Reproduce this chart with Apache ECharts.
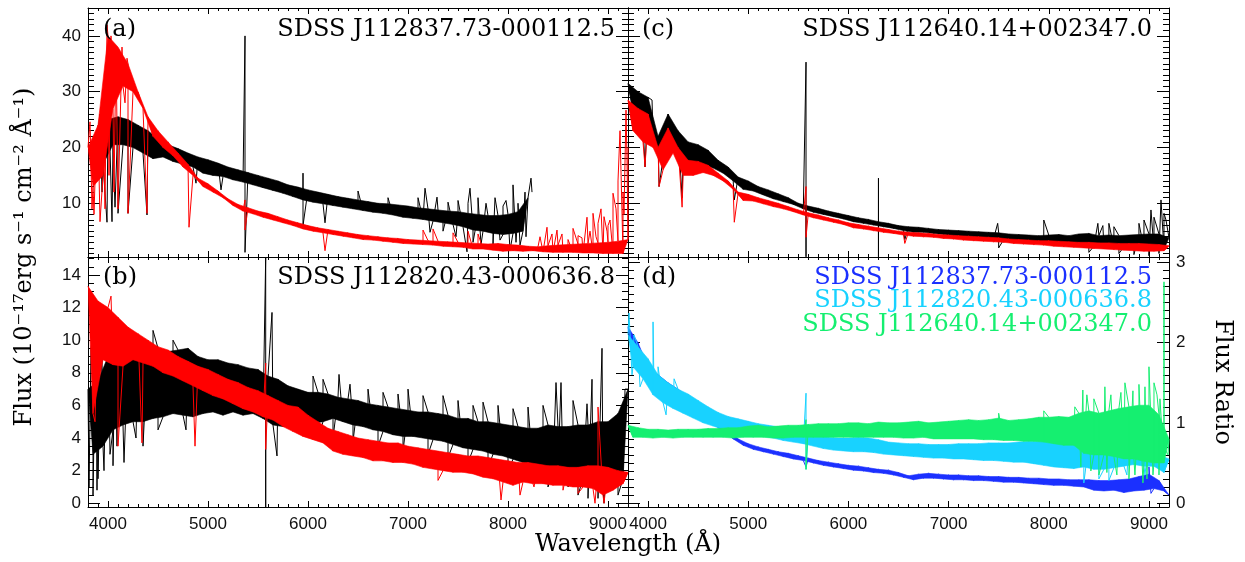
<!DOCTYPE html>
<html><head><meta charset="utf-8">
<script src="https://cdn.jsdelivr.net/npm/echarts@6/dist/echarts.min.js"></script>
<style>html,body{margin:0;padding:0;background:#fff}#c{width:1245px;height:562px}</style>
</head><body><div id="c"></div>
<script>
// ---------- tick labels ----------
const xTickLabels = [4000, 5000, 6000, 7000, 8000, 9000];
const yTickLabelsTop = [10, 20, 30, 40];
const yTickLabelsB = [0, 2, 4, 6, 8, 10, 12, 14];
const yTickLabelsRatio = [0, 1, 2, 3];

const titles = ['SDSS J112837.73-000112.5', 'SDSS J112820.43-000636.8', 'SDSS J112640.14+002347.0'];
const panelTags = ['(a)', '(b)', '(c)', '(d)'];

// ---------- spectra: upper / lower noise envelope every 100 A from start, plus narrow features ----------
// panel (a)
const aBlackStart = 3900, aBlackEnd = 8240;
const aBlackHi = [23,25,25.5,25,24,23,21.5,20.5,19.8,19,18.3,17.8,17.2,16.5,16,15.5,15,14.5,14,13.3,12.9,12.4,12,11.6,11.2,10.9,10.6,10.3,10,9.9,9.7,9.5,9.2,9,8.8,8.6,8.5,8.2,8,7.8,7.8,8,8.5,11];
const aBlackLo = [17,20.5,20.5,20,19,18,18.3,17.5,17,16.5,15.4,15,14.8,14.2,13.8,13.3,12.8,12.3,11.8,11.2,10.6,10.2,9.9,9.6,9.3,9,8.7,8.4,8.2,7.9,7.5,7.3,7.1,6.8,6.5,6.2,5.8,5.2,5,4.6,4.4,4.6,5,7];
const aBlackLines = [[3920,26],[3940,12],[3990,6.6],[4010,26.5],[4040,6.7],[4070,9.3],[4100,8.2],[4200,8.2],[4390,7.9],[4880,13.6],[5130,12.4],[5370,40],[5370,1.2],[5950,15.4],[5950,6],[6170,6.5],[6500,12.2],[6800,11],[7100,11],[7170,12.7],[7220,4.8],[7290,11.1],[7350,5],[7400,10.2],[7480,4],[7500,10.5],[7590,1.3],[7600,10],[7620,12.7],[7650,3],[7700,11],[7730,2.6],[7780,10],[7850,2.5],[7870,11],[7920,3.4],[7950,9.5],[7980,10.5],[8020,1.6],[8050,13.3],[8080,3],[8100,10],[8120,2.5],[8170,12],[8180,4],[8230,14.5],[8240,12]];

const aRedStart = 3800, aRedEnd = 9200;
const aRedHi = [20,24,40,38,35,30,25.5,23,21,19,17,14.5,13.5,12.2,10.8,9.8,9.2,8.6,8.2,7.6,7,6.5,6,5.6,5.3,5,4.7,4.4,4.2,4,3.8,3.7,3.5,3.4,3.3,3.2,3.1,3,2.9,2.8,2.7,2.8,2.6,2.5,2.3,2.2,2.4,2.5,2.6,2.7,2.8,2.9,3,3.2,3.5];
const aRedLo = [13,15,27,31,30,27,22,20,18.5,16.5,15,13,12,11,9.6,8.6,8.1,7.5,7,6.5,6,5.4,5,4.7,4.4,4.1,3.8,3.5,3.4,3.2,3,2.8,2.7,2.6,2.5,2.3,2.2,2.1,1.8,1.8,1.6,1.4,1.5,1.4,1.5,1.3,1.2,1.2,1.2,1.1,1.1,1,1,1,1];
const aRedLines = [[3820,24.6],[3840,9],[3860,8],[3880,20],[3920,6.7],[3950,30],[3970,9],[3990,42],[4010,15],[4030,40],[4060,12],[4080,38],[4100,9],[4140,38],[4170,28],[4190,36],[4200,8.2],[4390,8.2],[4810,5.7],[5370,10.6],[5370,5.2],[6170,1.5],[7150,5.2],[7250,5.4],[7450,4.7],[7600,5],[7700,4.5],[8320,4],[8390,5.7],[8440,4.5],[8490,5.2],[8540,4.5],[8600,3.5],[8650,5.5],[8700,4.2],[8740,3.8],[8790,7.5],[8820,5],[8850,8.2],[8880,4],[8900,6.4],[8930,9],[8960,7.6],[8990,5],[9000,6],[9020,7],[9050,11.8],[9080,9],[9100,14],[9120,23],[9150,12],[9160,8],[9180,26.7],[9190,18],[9200,20]];

// panel (c)
const cStart = 3800, cEnd = 9200;
const cBlackHi = [31.5,30,29,22,26,23,21,20.5,19.5,17.7,16.5,14.7,14,13,12.4,11.7,11,10,9.5,9.1,8.6,8.2,7.8,7.4,7.1,6.7,6.4,6.0,5.8,5.7,5.5,5.3,5.2,5.1,5.0,4.9,4.8,4.7,4.5,4.4,4.3,4.2,4.3,4.4,4.2,4.5,4.6,4.2,4.3,4.2,4.3,4.4,4.5,4.5,3.8];
const cBlackLo = [26.5,24,22,18,21,18,17,17,16.3,15.4,14,12.5,12.2,11.5,10.8,10.3,9.8,9,8.4,8,7.6,7.2,6.7,6.4,6.1,5.8,5.5,5.1,4.8,4.8,4.6,4.4,4.2,4.1,4,3.8,3.7,3.5,3.3,3.2,3,2.9,2.7,2.6,2.5,2.4,2.3,2.2,2.1,2.2,2,1.9,1.8,1.7,1.8];
const cBlackLines = [[3970,16.5],[4040,28.5],[4110,13],[4340,11],[4861,10.6],[5577,35.3],[5577,0.4],[5577,9],[6300,14.5],[6300,0.4],[6300,6.5],[6563,3.5],[7490,6.4],[7500,2],[7950,7],[8400,1.2],[8490,6.4],[8540,6],[8600,6.4],[8650,5.8],[8700,1],[8850,0.8],[8900,6.4],[8950,7],[9000,0.6],[9020,8.8],[9050,7.5],[9100,1],[9120,10.6],[9150,8.2],[9170,7]];
const cRedHi = [28.5,27,26,20,23.5,20,17.7,17.5,16.8,15.4,14,12,11.6,11,10.5,10,9.4,8.8,8.3,7.9,7.4,7.0,6.5,6.2,5.9,5.6,5.3,5.0,4.8,4.7,4.6,4.4,4.3,4.2,4.1,4.0,3.9,3.8,3.6,3.5,3.4,3.3,3.3,3.2,3.1,3.0,3.0,2.9,2.9,2.8,2.8,2.8,2.7,2.6,2.4];
const cRedLo = [23,21,20,16,19,15,15,15.5,15,14,12.5,10.5,10.4,9.9,9.4,9,8.5,7.9,7.4,7.0,6.6,6.2,5.6,5.4,5.1,4.8,4.6,4.3,4.1,4.0,3.9,3.7,3.6,3.4,3.3,3.2,3.1,3.0,2.8,2.7,2.6,2.5,2.3,2.2,2.1,2.0,1.9,1.8,1.7,1.6,1.5,1.4,1.4,1.5,1.6];
const cRedLines = [[3970,16.5],[4110,13],[4340,9.3],[4861,6.6],[5577,13],[5577,3.9],[6563,2.8]];

// panel (b)
const bStart = 3800, bEnd = 9200;
const bBlackHi = [7,7.5,9,9,9.4,9.6,9.8,9.5,9.3,9.4,9.5,9,8.8,8.8,8.6,8.5,8.3,8.2,7.8,7.6,7.2,7,6.8,6.8,6.7,6.5,6.4,6.3,6.1,6,5.9,5.8,5.7,5.6,5.6,5.5,5.4,5.2,5.2,5,5,4.9,4.8,4.7,4.6,4.6,4.8,4.7,4.7,4.8,4.8,5,5,5.5,7];
const bBlackLo = [3,3.5,4.5,4.8,5,5,5.2,5.3,5.5,5.4,5.3,5.5,5.6,5.4,5.6,5.4,5.5,5.2,4.8,4.7,4.8,4.8,4.9,5,5.2,5,4.8,4.7,4.5,4.4,4.2,4.1,4.1,4,3.9,3.8,3.6,3.4,3.3,3.2,3,2.9,2.7,2.5,2.3,2.2,2,1.8,1.5,1.5,1.3,1,1,1.5,2];
const bBlackLines = [[3810,1],[3830,9.5],[3840,10],[3850,0.5],[3870,8],[3880,9],[3890,0.8],[3900,1.5],[3920,7],[3940,9],[3960,2],[3980,8.5],[4000,10.4],[4020,3],[4050,2.3],[4070,9.5],[4090,3.5],[4160,2.5],[4210,9.6],[4280,4],[4350,3.5],[4450,10.6],[4500,4.5],[4650,10],[4780,4.5],[5577,15.1],[5577,-0.25],[5577,6],[5640,11.7],[5690,2.9],[6050,7.8],[6100,4],[6150,7.6],[6250,4],[6310,7.9],[6420,7.3],[6450,3.8],[6600,7],[6700,3.5],[6750,6.8],[6900,6.7],[6950,3.2],[7000,7],[7150,6.6],[7200,3],[7350,6.6],[7400,2.8],[7500,6.3],[7600,2.5],[7650,6],[7750,6.2],[7800,2.2],[7900,6],[8000,2],[8050,5.8],[8150,1.6],[8200,5.9],[8300,1.5],[8350,6],[8400,1],[8480,7.4],[8500,2],[8530,7.4],[8600,1],[8650,6.3],[8700,0.5],[8790,6.1],[8800,0.3],[8840,7.6],[8900,0.3],[8940,9.5],[8960,0],[9100,0.5],[9170,7]];
const bRedHi = [13.3,12.4,12,11.4,10.8,10.4,10,9.6,9.4,9,8.7,8.4,8.2,7.9,7.6,7.4,7.1,6.9,6.6,6.3,6,5.9,5.4,5,4.6,4.4,4.2,4,3.9,3.8,3.7,3.7,3.5,3.4,3.3,3.2,3.1,3,2.9,2.9,2.8,2.7,2.6,2.5,2.5,2.4,2.3,2.3,2.2,2.2,2.3,2.3,2.2,2,1.9];
const bRedLo = [5.5,8.8,8.5,8.4,8.8,8.6,8.4,8,7.8,7.5,7.2,6.9,6.6,6.4,6.1,5.8,5.6,5.3,5.1,4.7,4.4,4.1,3.9,3.7,3.2,3,2.9,2.8,2.6,2.6,2.5,2.5,2.4,2.2,2.1,2,1.9,1.9,1.8,1.6,1.5,1.3,1.1,1.3,1.2,1.2,1.1,1.1,1,1,0.9,0.5,0.8,1.2,1.3];
const bRedLines = [[3830,12.8],[3870,5],[3950,11.8],[4030,12.7],[4100,3.5],[4340,3.7],[4870,3.5],[5577,8.6],[5577,3.3],[7300,1.4],[7930,0.2],[8120,0.5],[8260,1],[8550,0.8],[8700,0.6],[8870,0],[8900,5.9],[8960,0]];

// panel (d): flux ratios
const dStart = 3800, dEnd = 9200;
const dBlueHi = [2.2,2.0,1.7,1.6,1.5,1.42,1.33,1.22,1.12,1.04,0.92,0.8,0.74,0.7,0.67,0.64,0.62,0.59,0.56,0.53,0.51,0.49,0.47,0.46,0.44,0.42,0.41,0.38,0.34,0.36,0.37,0.36,0.35,0.35,0.34,0.34,0.33,0.33,0.32,0.32,0.31,0.31,0.3,0.3,0.29,0.29,0.29,0.28,0.28,0.29,0.3,0.33,0.36,0.28,0.1];
const dBlueLo = [1.8,1.6,1.45,1.4,1.33,1.25,1.16,1.07,0.98,0.9,0.8,0.72,0.67,0.64,0.61,0.58,0.55,0.53,0.5,0.47,0.45,0.43,0.41,0.4,0.38,0.37,0.35,0.32,0.29,0.31,0.31,0.3,0.29,0.29,0.28,0.28,0.27,0.26,0.26,0.25,0.24,0.23,0.22,0.22,0.21,0.2,0.16,0.15,0.16,0.13,0.15,0.16,0.18,0.15,0.06];
const dBlueLines = [[5577,0.45],[9000,0.45],[9020,0.12]];
const dCyanHi = [2.1,1.95,1.8,1.6,1.5,1.42,1.36,1.28,1.2,1.13,1.08,1.05,1.02,0.99,0.97,0.95,0.93,0.91,0.87,0.84,0.82,0.81,0.81,0.82,0.81,0.79,0.76,0.75,0.74,0.74,0.73,0.73,0.73,0.74,0.74,0.74,0.75,0.75,0.75,0.76,0.77,0.77,0.78,0.76,0.75,0.75,0.75,0.74,0.76,0.78,0.78,0.8,0.78,0.6,0.55];
const dCyanLo = [1.7,1.55,1.35,1.25,1.18,1.12,1.06,1.0,0.96,0.92,0.89,0.87,0.85,0.83,0.81,0.78,0.76,0.74,0.71,0.68,0.66,0.65,0.64,0.64,0.63,0.61,0.6,0.59,0.58,0.57,0.56,0.56,0.55,0.55,0.54,0.53,0.53,0.52,0.51,0.51,0.49,0.47,0.45,0.44,0.43,0.45,0.42,0.42,0.44,0.46,0.48,0.46,0.46,0.38,0.33];
const dCyanLines = [[3810,2.37],[3840,1.6],[3860,2.1],[3920,1.45],[4050,2.26],[4060,1.4],[4100,1.7],[4180,1.1],[4260,1.55],[5577,1.37],[5577,0.42],[8350,0.25],[8420,0.9],[8500,0.3],[8600,0.28],[8650,0.88],[8780,0.35],[8900,0.95],[8960,0.35]];
const dGreenHi = [0.97,0.94,0.92,0.92,0.91,0.92,0.92,0.92,0.93,0.93,0.94,0.94,0.96,0.97,0.95,0.96,0.97,0.97,0.98,0.99,0.99,0.99,1.0,1.0,0.99,1.01,1.0,1.0,1.01,1.02,1.0,1.01,1.02,1.03,1.04,1.03,1.04,1.06,1.03,1.04,1.05,1.07,1.07,1.08,1.07,1.12,1.15,1.12,1.15,1.18,1.2,1.22,1.22,1.1,0.8];
const dGreenLo = [0.82,0.82,0.81,0.82,0.81,0.82,0.82,0.82,0.82,0.82,0.81,0.82,0.82,0.82,0.81,0.81,0.82,0.82,0.82,0.82,0.82,0.82,0.82,0.82,0.82,0.82,0.82,0.81,0.81,0.82,0.8,0.8,0.8,0.8,0.8,0.79,0.79,0.78,0.78,0.77,0.77,0.76,0.74,0.72,0.72,0.62,0.6,0.6,0.58,0.55,0.55,0.52,0.5,0.5,0.5];
const dGreenLines = [[5577,1.04],[5577,0.42],[7500,1.12],[7950,1.15],[8260,1.2],[8320,0.45],[8340,1.41],[8380,1.35],[8420,0.4],[8450,1.3],[8500,0.35],[8560,1.45],[8580,0.38],[8620,1.35],[8680,0.35],[8720,1.38],[8760,1.5],[8800,0.3],[8840,1.4],[8860,0.35],[8900,1.48],[8940,0.25],[8960,1.45],[8980,0.3],[9000,1.7],[9040,0.35],[9050,1.5],[9080,1.35],[9100,0.35],[9110,1.3],[9150,2.76],[9150,0.7],[9190,0.6]];

// ---------- build ----------
function spec(start, hi, lo, lines, end) {
  const pts = [], upper = [], lower = [];
  for (let i = 0; i < hi.length; i++) {
    const w = start + 100 * i;
    pts.push([w, hi[i]]);
    upper.push([w, hi[i]]);
    if (w + 50 <= end) { pts.push([w + 50, lo[i]]); lower.push([w + 50, lo[i]]); }
  }
  lines.forEach(p => pts.push(p));
  pts.sort((p, q) => p[0] - q[0]);
  return {line: pts, band: upper.concat(lower.reverse())};
}

function range(a, b, s, skip) {
  const out = [];
  for (let v = a; v <= b + 1e-9; v += s) {
    const r = Math.round(v * 1000) / 1000;
    if (!skip(r)) out.push(r);
  }
  return out;
}
const xMinor = range(3800, 9200, 100, v => v % 1000 === 0);
const yMinorTop = range(1, 45, 1, v => v % 10 === 0);
const yMinorB = range(0, 15, 0.5, v => v % 2 === 0);
const yMinorRatio = range(0, 3, 0.1, v => Math.abs(v - Math.round(v)) < 1e-6);

const grids = [
  {left: 88, top: 8, width: 540, height: 249},   // (a)
  {left: 628, top: 8, width: 541, height: 249},  // (c)
  {left: 88, top: 257, width: 540, height: 250}, // (b)
  {left: 628, top: 257, width: 541, height: 250} // (d)
];
const yRanges = [[0.37, 45.0], [0.37, 45.0], [-0.23, 15.1], [-0.05, 3.07]];
const yMajors = [yTickLabelsTop, yTickLabelsTop, yTickLabelsB, yTickLabelsRatio];
const yMinors = [yMinorTop, yMinorTop, yMinorB, yMinorRatio];

const labelStyle = {fontFamily: 'Liberation Sans', fontSize: 17, color: '#111', formatter: v => String(v)};
const xAxis = [], yAxis = [];
const mainX = [], mainY = [];

for (let g = 0; g < 4; g++) {
  const showXLabel = g >= 2;
  ['bottom', 'top'].forEach((pos, k) => {
    xAxis.push({
      gridIndex: g, type: 'value', min: 3800, max: 9200, position: pos,
      axisLine: {show: true, onZero: false, lineStyle: {color: '#000', width: 1}},
      axisTick: {show: true, inside: true, length: 6, customValues: xTickLabels, lineStyle: {color: '#000'}},
      axisLabel: Object.assign({show: showXLabel && k === 0, customValues: xTickLabels, margin: 9}, labelStyle),
      splitLine: {show: false}
    });
    if (k === 0) mainX[g] = xAxis.length - 1;
    xAxis.push({
      gridIndex: g, type: 'value', min: 3800, max: 9200, position: pos,
      axisLine: {show: false, onZero: false},
      axisTick: {show: true, inside: true, length: 3, customValues: xMinor, lineStyle: {color: '#000'}},
      axisLabel: {show: false}, splitLine: {show: false}
    });
  });
  ['left', 'right'].forEach((pos, k) => {
    let showLab = false;
    if (k === 0 && (g === 0 || g === 2)) showLab = true;
    if (k === 1 && g === 3) showLab = true;
    yAxis.push({
      gridIndex: g, type: 'value', min: yRanges[g][0], max: yRanges[g][1], position: pos,
      axisLine: {show: true, onZero: false, lineStyle: {color: '#000', width: 1}},
      axisTick: {show: true, inside: true, length: 12, customValues: yMajors[g], lineStyle: {color: '#000'}},
      axisLabel: Object.assign({show: showLab, customValues: yMajors[g], margin: 7}, labelStyle),
      splitLine: {show: false}
    });
    if (k === 0) mainY[g] = yAxis.length - 1;
    yAxis.push({
      gridIndex: g, type: 'value', min: yRanges[g][0], max: yRanges[g][1], position: pos,
      axisLine: {show: false, onZero: false},
      axisTick: {show: true, inside: true, length: 6, customValues: yMinors[g], lineStyle: {color: '#000'}},
      axisLabel: {show: false}, splitLine: {show: false}
    });
  });
}

const series = [];
function addSpec(g, s, color, z) {
  series.push({
    type: 'custom', xAxisIndex: mainX[g], yAxisIndex: mainY[g], data: [[s.band[0][0], s.band[0][1]]],
    clip: true, silent: true, animation: false, z: z,
    renderItem: (params, api) => ({
      type: 'polygon',
      shape: {points: s.band.map(p => api.coord(p))},
      style: {fill: color, stroke: color, lineWidth: 0.6}
    })
  });
  series.push({type: 'line', xAxisIndex: mainX[g], yAxisIndex: mainY[g], data: s.line, showSymbol: false, symbol: 'none',
    lineStyle: {width: 1, color: color}, color: color, animation: false, silent: true, clip: true, z: z});
}

const BLUE = '#1b30ff', CYAN = '#18d2ff', GREEN = '#15ef70';
addSpec(0, spec(aBlackStart, aBlackHi, aBlackLo, aBlackLines, aBlackEnd), '#000000', 2);
addSpec(0, spec(aRedStart, aRedHi, aRedLo, aRedLines, aRedEnd), '#ff0000', 3);
addSpec(1, spec(cStart, cBlackHi, cBlackLo, cBlackLines, cEnd), '#000000', 2);
addSpec(1, spec(cStart, cRedHi, cRedLo, cRedLines, cEnd), '#ff0000', 3);
addSpec(2, spec(bStart, bBlackHi, bBlackLo, bBlackLines, bEnd), '#000000', 2);
addSpec(2, spec(bStart, bRedHi, bRedLo, bRedLines, bEnd), '#ff0000', 3);
addSpec(3, spec(dStart, dBlueHi, dBlueLo, dBlueLines, dEnd), BLUE, 2);
addSpec(3, spec(dStart, dCyanHi, dCyanLo, dCyanLines, dEnd), CYAN, 3);
addSpec(3, spec(dStart, dGreenHi, dGreenLo, dGreenLines, dEnd), GREEN, 4);

const serif = 'DejaVu Serif';
function txt(x, y, s, align, color, rot) {
  return {type: 'text', x: x, y: y, rotation: rot || 0, z: 100,
    style: {text: s, fill: color || '#000', font: '24px "' + serif + '"', textAlign: align, textVerticalAlign: 'middle'}};
}
const graphic = [
  txt(103, 30, panelTags[0], 'left'),
  txt(615, 30, titles[0], 'right'),
  txt(642, 30, panelTags[2], 'left'),
  txt(1152, 30, titles[2], 'right'),
  txt(103, 278, panelTags[1], 'left'),
  txt(615, 278, titles[1], 'right'),
  txt(642, 278, panelTags[3], 'left'),
  txt(1152, 278, titles[0], 'right', BLUE),
  txt(1152, 301, titles[1], 'right', CYAN),
  txt(1152, 325, titles[2], 'right', GREEN),
  txt(25, 257, 'Flux (10\u207B\u00B9\u2077erg s\u207B\u00B9 cm\u207B\u00B2 \u00C5\u207B\u00B9)', 'center', '#000', Math.PI / 2),
  txt(628, 545, 'Wavelength (\u00C5)', 'center'),
  txt(1222, 382, 'Flux Ratio', 'center', '#000', -Math.PI / 2)
];

const chart = echarts.init(document.getElementById('c'), null, {renderer: 'canvas'});
chart.setOption({
  animation: false,
  backgroundColor: '#fff',
  grid: grids,
  xAxis: xAxis,
  yAxis: yAxis,
  series: series,
  graphic: graphic
});
</script>
</body></html>
